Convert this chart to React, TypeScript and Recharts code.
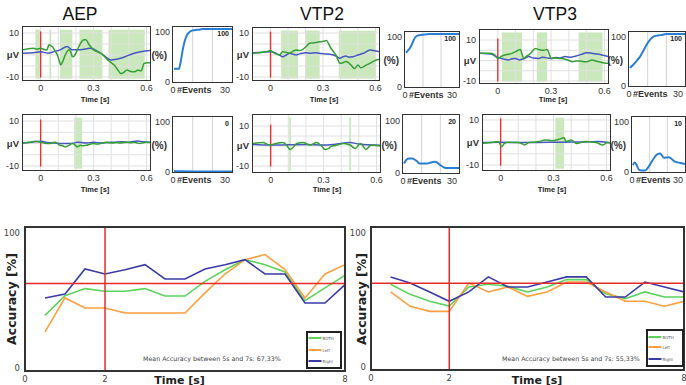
import React from 'react';
import { LineChart, Line, XAxis, YAxis, ReferenceLine, ReferenceArea } from 'recharts';

const TOP_FONT = '"Liberation Sans", Arial, sans-serif';
const TITLE_FONT = '"Liberation Sans Narrow", "Liberation Sans", Arial, sans-serif';
const BOT_FONT = '"DejaVu Sans", Verdana, sans-serif';

type P = [number, number];

// ---------- axis ticks ----------
const erpTimeTicks = [0, 0.3, 0.6];
const erpAmpTicks = [-10, 0, 10];
const erpGridTime = [0, 0.1, 0.2, 0.3, 0.4, 0.5, 0.6];
const erpGridAmp = [-10, -5, 0, 5, 10];
const pctTicks = [0, 50, 100];
const eventTicks = [0, 30];
const eventGrid = [10, 20];
const accTimeTicks = [0, 2, 8];
const accTicks = [0, 100];

// ---------- ERP traces (time [s], amplitude [µV]) ----------
const aepTopGreen: P[] = [[-0.1,2.3],[-0.07,2.8],[-0.04,3],[-0.02,2.6],[0,3],[0.02,2.5],[0.035,2.2],[0.047,4.6],[0.058,4.2],[0.066,3.8],[0.08,2],[0.095,0],[0.105,-2.5],[0.114,-4.6],[0.125,-3],[0.14,0],[0.16,2.3],[0.17,1.5],[0.18,-0.8],[0.19,-0.5],[0.2,0.8],[0.215,3.5],[0.227,5.4],[0.245,6.9],[0.256,6.9],[0.275,4.6],[0.3,2.3],[0.32,1.5],[0.34,0.8],[0.36,-0.5],[0.38,-2.3],[0.4,-3.5],[0.417,-4.6],[0.435,-6.5],[0.455,-8.5],[0.47,-8],[0.49,-6.9],[0.51,-7.5],[0.53,-7.7],[0.55,-7],[0.57,-7.2],[0.587,-3.8],[0.6,-3.6],[0.62,-3.5]];
const aepTopBlue: P[] = [[-0.1,0.8],[-0.04,1],[0,1.5],[0.04,0.8],[0.076,1.5],[0.11,2.3],[0.15,3.8],[0.18,2.3],[0.227,2.3],[0.28,3],[0.34,0.8],[0.4,-2.3],[0.455,-1.5],[0.53,0.8],[0.62,2]];
const aepTopShades: P[] = [[-0.03,-0.005],[0.05,0.06],[0.11,0.18],[0.22,0.35],[0.385,0.59]];

const vtp2TopGreen: P[] = [[-0.1,0.8],[-0.07,1],[-0.044,1.2],[-0.02,1.6],[0,2],[0.015,1.2],[0.03,0.5],[0.05,0],[0.07,1.5],[0.09,1.2],[0.11,0.8],[0.13,1.8],[0.147,2.3],[0.165,2],[0.185,2.6],[0.205,4],[0.224,5.4],[0.245,5.5],[0.26,5.7],[0.28,6],[0.3,6.2],[0.32,6.6],[0.33,5.5],[0.34,3.8],[0.36,1.5],[0.377,-0.5],[0.396,-3.8],[0.415,-3.5],[0.43,-3],[0.445,-3.5],[0.46,-4.6],[0.48,-6.2],[0.5,-4.6],[0.515,-5.8],[0.53,-5.4],[0.55,-4.5],[0.568,-3.8],[0.59,-2.8],[0.606,-2.3],[0.62,-2]];
const vtp2TopBlue: P[] = [[-0.1,1],[-0.05,1.2],[0,1.5],[0.03,0.8],[0.05,0],[0.07,-0.8],[0.09,0],[0.11,0.8],[0.13,0.3],[0.147,0],[0.165,0.5],[0.185,0.8],[0.205,1],[0.224,0.8],[0.26,1],[0.29,0.7],[0.32,0.5],[0.36,0],[0.38,-0.8],[0.396,-1.5],[0.415,-0.8],[0.43,-0.5],[0.45,-1],[0.47,-0.8],[0.5,0],[0.53,0.8],[0.57,2.3],[0.6,1.8],[0.62,1.5]];
const vtp2TopShades: P[] = [[0.061,0.157],[0.2,0.281],[0.39,0.6]];

const vtp3TopGreen: P[] = [[-0.1,3.5],[-0.07,3.5],[-0.044,3.5],[-0.02,3],[0,1],[0.02,2],[0.04,2.7],[0.06,3],[0.08,3.5],[0.1,4.3],[0.117,5.1],[0.127,5.4],[0.137,3],[0.146,1],[0.16,2],[0.174,2.7],[0.19,4],[0.21,5.9],[0.225,5.5],[0.24,5.1],[0.26,5],[0.278,5.4],[0.29,3],[0.3,1],[0.32,1.2],[0.345,1],[0.38,0.6],[0.4,0],[0.42,-0.6],[0.44,-0.3],[0.46,-0.2],[0.48,-0.5],[0.5,-0.6],[0.53,0.2],[0.55,-0.2],[0.57,-0.6],[0.6,-1.2],[0.62,-1.4]];
const vtp3TopBlue: P[] = [[-0.1,3.5],[-0.06,3.3],[-0.034,3],[0,1.5],[0.03,0.8],[0.06,0.2],[0.08,0.8],[0.1,1],[0.12,0.3],[0.136,0.6],[0.155,1.2],[0.174,1.9],[0.2,1.2],[0.23,1],[0.25,1.6],[0.27,1.4],[0.3,1],[0.326,1.5],[0.35,1.2],[0.38,1.9],[0.41,1.6],[0.44,2.2],[0.47,3],[0.5,3.8],[0.53,3.5],[0.57,3],[0.61,2.2],[0.62,2]];
const vtp3TopShades: P[] = [[0.023,0.136],[0.22,0.278],[0.455,0.59]];

const aepBotGreen: P[] = [[-0.1,0],[-0.08,0.4],[-0.06,0.6],[-0.03,1],[0,0.6],[0.015,0.3],[0.03,0],[0.056,0],[0.07,0.5],[0.084,0.6],[0.1,-0.3],[0.11,-0.8],[0.125,-1],[0.14,-1.5],[0.16,-0.8],[0.18,0],[0.195,-0.6],[0.206,-1.5],[0.215,-1.2],[0.225,-0.8],[0.24,-1],[0.26,-0.8],[0.28,-0.3],[0.3,0],[0.32,-0.3],[0.34,0],[0.36,0.4],[0.375,0.6],[0.39,0.3],[0.41,0.2],[0.43,0.5],[0.45,0.2],[0.47,0.4],[0.49,0.6],[0.51,0.3],[0.525,0.6],[0.545,0.3],[0.56,0],[0.58,0.3],[0.6,0.6],[0.62,0.4]];
const aepBotBlue: P[] = [[-0.1,0.2],[-0.05,0.6],[0,1],[0.04,0.4],[0.08,0.2],[0.12,0],[0.15,0],[0.2,0.4],[0.206,0.6],[0.23,0.5],[0.26,0.2],[0.3,0.6],[0.34,0.2],[0.38,0.5],[0.42,0.6],[0.46,0.8],[0.5,0.6],[0.55,1.1],[0.58,0.8],[0.62,0.6]];
const aepBotShades: P[] = [[0.19,0.235]];

const vtp2BotGreen: P[] = [[-0.1,1.3],[-0.044,1.7],[-0.005,0.5],[0.03,1.3],[0.07,1.7],[0.09,0.5],[0.11,-1.7],[0.13,-0.5],[0.147,1.3],[0.185,1.7],[0.224,0.5],[0.26,1.7],[0.285,0.3],[0.31,-1.7],[0.33,-1.2],[0.34,-0.3],[0.377,0.5],[0.415,1.3],[0.45,0.5],[0.48,-1.2],[0.51,1.3],[0.54,-1.7],[0.57,0.5],[0.6,0.2],[0.62,0]];
const vtp2BotBlue: P[] = [[-0.1,0.8],[0,0.5],[0.1,0.6],[0.2,0.7],[0.3,0.5],[0.36,0.8],[0.45,1.7],[0.5,1],[0.55,0.6],[0.62,0.4]];
const vtp2BotShades: P[] = [[0.105,0.115],[0.445,0.455]];

const vtp3BotGreen: P[] = [[-0.1,-0.3],[-0.05,0],[-0.013,0.4],[0.006,-1.9],[0.02,-0.5],[0.044,0.1],[0.1,0],[0.12,-0.5],[0.136,-1.1],[0.16,0],[0.2,0.2],[0.216,0.4],[0.254,1.1],[0.29,0.8],[0.33,1.4],[0.36,2.1],[0.37,0.4],[0.4,1.1],[0.43,-0.4],[0.48,0.4],[0.54,0],[0.58,-1.1],[0.605,0],[0.62,0]];
const vtp3BotBlue: P[] = [[-0.1,0],[0,0.1],[0.1,0],[0.2,0],[0.3,0.1],[0.4,0.2],[0.5,0.3],[0.55,0.4],[0.62,-0.2]];
const vtp3BotShades: P[] = [[0.31,0.36]];

// ---------- detection rate vs #events ----------
const aepTopPct: P[] = [[0.5,25],[3,25],[4,40],[5,62],[6,78],[7,88],[8,93],[9,96],[11,98],[13,99],[15,100],[20,100],[30,100]];
const vtp2TopPct: P[] = [[0.5,65],[2,70],[3,75],[4,82],[5,90],[6,95],[8,98],[10,99],[14,100],[30,100]];
const vtp3TopPct: P[] = [[0.5,35],[2,40],[4,48],[6,57],[8,70],[9.5,80],[11,88],[13,95],[15,97],[17,98],[20,100],[30,100]];
const aepBotPct: P[] = [[0.5,2],[2,1.5],[5,1.2],[10,1],[20,1],[30,1]];
const vtp2BotPct: P[] = [[0.5,17],[2,24],[3.3,26],[5,26],[5.8,25],[7.5,21],[9,17],[11,17],[13,17],[15,19],[17,20],[18.5,18],[20,14],[22,10],[24,9],[28,9],[30,9]];
const vtp3BotPct: P[] = [[0.5,13],[1.5,18],[2.5,14],[4,4],[5.5,3],[7.5,3],[10,13],[12,24],[14,33],[16,35],[18,27],[21,28],[24,20],[27.5,17],[30,15]];
const pctBadges = ['100', '100', '100', '0', '20', '10'];

// ---------- accuracy over time ----------
const accTime = [0.5,1,1.5,2,2.5,3,3.5,4,4.5,5,5.5,6,6.5,7,7.5,8];
const leftBoth = [39,53.6,58.8,56.8,56.8,58.8,53.3,53.3,64.2,72.8,80.2,76.5,71.1,49.9,59.3,68.6];
const leftLeft = [26.7,51.9,44.4,44.4,40.7,40.7,40.7,40.7,55.6,69.6,80.2,84,72.8,51.9,69.6,76.5];
const leftRight = [51.9,54.8,73.3,69.6,72.8,76.5,65.9,65.9,73.3,76.5,80.2,69.6,69.6,48.1,48.1,61.7];
const rightBoth = [61.7,54.2,49,45.5,59.7,61.7,60.2,56,59.7,65.2,65.2,54.7,51,56,52.2,52.2];
const rightLeft = [56,45.3,41.5,41.5,62.7,56,59.7,52.7,56,63.4,63.4,56,49,49,45.3,49];
const rightRight = [67.2,62.7,56,49,56,67.2,59.7,59.7,63.4,67.2,67.2,52.2,52.2,63.4,59.7,56];
const accThreshold = 62.5;
const cueTime = 2;
const meanTexts = ['Mean Accuracy between 5s and 7s: 67,33%', 'Mean Accuracy between 5s and 7s: 55,33%'];
const accSeries = [
  { key: 'both', name: 'BOTH', color: '#5ad45a' },
  { key: 'left', name: 'Left', color: '#ffa040' },
  { key: 'right', name: 'Right', color: '#3b3ba8' },
];

const toTV = (a: P[]) => a.map(([t, v]) => ({ t, v }));
const toEP = (a: P[]) => a.map(([e, p]) => ({ e, p }));
const accRows = (b: number[], l: number[], r: number[]) =>
  accTime.map((t, i) => ({ t, both: b[i], left: l[i], right: r[i] }));

// ---------- helpers ----------
function Txt({ x, y, children, size, bold = false, anchor = 'middle', rotate = 0, family = TOP_FONT, color = '#222' }: any) {
  const tx = anchor === 'middle' ? '-50%' : anchor === 'end' ? '-100%' : '0';
  return (
    <div
      style={{
        position: 'absolute', left: x, top: y,
        transform: `translate(${tx},-50%)${rotate ? ` rotate(${rotate}deg)` : ''}`,
        fontSize: size, fontWeight: bold ? 700 : 400, whiteSpace: 'nowrap', lineHeight: 1,
        fontFamily: family, color,
      }}
    >
      {children}
    </div>
  );
}

const BoxBorder = ({ left, top, w, h, width = 1.5 }: any) => (
  <div
    style={{
      position: 'absolute', left: left - width / 2, top: top - width / 2, width: w + width, height: h + width,
      border: `${width}px solid #333`, boxSizing: 'border-box', pointerEvents: 'none',
    }}
  />
);

// ---------- ERP panel ----------
const EYW = 24, EXH = 14, EMR = 10;
const ErpXTick = (p: any) => (
  <text x={p.x} y={p.y} dy="0.8em" textAnchor="middle" fontSize={9} fill="#333" fontFamily={TOP_FONT}>
    {String(p.payload.value)}
  </text>
);
const ErpYTick = (p: any) => {
  const zero = p.payload.value === 0;
  return (
    <text x={p.x} y={p.y} dy="0.36em" textAnchor="end" fontSize={zero ? 9.5 : 9} fontWeight={zero ? 700 : 400} fill="#333" fontFamily={TOP_FONT}>
      {zero ? 'μV' : String(p.payload.value)}
    </text>
  );
};

function ErpPanel({ box, yDomain, green, blue, shades }: any) {
  const [lo, hi] = yDomain;
  return (
    <div style={{ position: 'absolute', left: box.x - EYW, top: box.y }}>
      <LineChart width={box.w + EYW + EMR} height={box.h + EXH} margin={{ top: 0, right: EMR, bottom: 0, left: 0 }}>
        <XAxis type="number" dataKey="t" domain={[-0.1, 0.62]} ticks={erpTimeTicks} interval={0} allowDataOverflow
          axisLine={false} tickLine={false} tickSize={2} tickMargin={2} height={EXH} tick={ErpXTick} />
        <YAxis type="number" dataKey="v" domain={yDomain} ticks={erpAmpTicks} interval={0} allowDataOverflow
          axisLine={false} tickLine={false} tickSize={2} tickMargin={2} width={EYW} tick={ErpYTick} />
        {erpGridTime.map((t) => <ReferenceLine key={'gx' + t} x={t} stroke="#e0e0e0" strokeWidth={1} />)}
        {erpGridAmp.map((v) => <ReferenceLine key={'gy' + v} y={v} stroke="#e0e0e0" strokeWidth={1} />)}
        {shades.map(([a, b]: P, i: number) => (
          <ReferenceArea key={'s' + i} x1={a} x2={b} y1={lo + 0.6} y2={hi - 1.2} fill="#a6d88e" fillOpacity={0.6} stroke="none" />
        ))}
        <ReferenceLine segment={[{ x: 0, y: -10.3 }, { x: 0, y: 10.7 }]} stroke="#f03030" strokeWidth={1.4} />
        <Line data={toTV(blue)} dataKey="v" type="monotone" stroke="#4657c2" strokeWidth={1.5} dot={false} isAnimationActive={false} />
        <Line data={toTV(green)} dataKey="v" type="monotone" stroke="#34a034" strokeWidth={1.5} dot={false} isAnimationActive={false} />
      </LineChart>
      <BoxBorder left={EYW} top={0} w={box.w} h={box.h} />
    </div>
  );
}

// ---------- % vs #events panel ----------
const PYW = 26, PXH = 14;
const PctXTick = (p: any) => {
  if (p.payload.value === 0) {
    return (
      <text x={p.x - 2.5} y={p.y} dy="0.8em" textAnchor="start" fontSize={9} fill="#333" fontFamily={TOP_FONT}>
        <tspan>0</tspan>
        <tspan dx={1.5} fontWeight={700}>#Events</tspan>
      </text>
    );
  }
  return (
    <text x={p.x - 2} y={p.y} dy="0.8em" textAnchor="end" fontSize={9} fill="#333" fontFamily={TOP_FONT}>
      {String(p.payload.value)}
    </text>
  );
};
const PctYTick = (p: any) => {
  const v = p.payload.value;
  const mid = v === 50;
  return (
    <text x={p.x} y={p.y} dx={mid ? -3 : 0} dy={v === 100 ? '0.7em' : '0.36em'} textAnchor="end" fontSize={mid ? 10 : 9}
      fontWeight={mid ? 700 : 400} fill="#333" fontFamily={TOP_FONT}>
      {mid ? '(%)' : String(v)}
    </text>
  );
};

function PctPanel({ box, data, badge }: any) {
  return (
    <div style={{ position: 'absolute', left: box.x - PYW, top: box.y }}>
      <LineChart width={box.w + PYW} height={box.h + PXH} margin={{ top: 0, right: 0, bottom: 0, left: 0 }}>
        <XAxis type="number" dataKey="e" domain={[0, 30]} ticks={eventTicks} interval={0} allowDataOverflow
          axisLine={false} tickLine={false} tickSize={2} tickMargin={2} height={PXH} tick={PctXTick} />
        <YAxis type="number" dataKey="p" domain={[0, 104]} ticks={pctTicks} interval={0} allowDataOverflow
          axisLine={false} tickLine={false} tickSize={1} tickMargin={2} width={PYW} tick={PctYTick} />
        {eventGrid.map((e) => <ReferenceLine key={'eg' + e} x={e} stroke="#d4d4d4" strokeWidth={1} />)}
        <Line data={toEP(data)} dataKey="p" type="monotone" stroke="#2a7fd4" strokeWidth={2} dot={false} isAnimationActive={false} />
      </LineChart>
      <BoxBorder left={PYW} top={0} w={box.w} h={box.h} />
      <Txt x={PYW + box.w - 3} y={6} size={7} bold anchor="end" color="#222">{badge}</Txt>
    </div>
  );
}

// ---------- accuracy panel ----------
const AYW = 25, AXH = 14, AMR = 6;
const AccXTick = (p: any) => (
  <text x={p.x} y={p.y} dy="0.8em" textAnchor="middle" fontSize={8.5} fill="#444" fontFamily={BOT_FONT}>
    {String(p.payload.value)}
  </text>
);
const AccYTick = (p: any) => (
  <text x={p.x} y={p.y} dy="0.36em" textAnchor="end" fontSize={8.5} fill="#444" fontFamily={BOT_FONT}>
    {String(p.payload.value)}
  </text>
);

function AccLegend({ x, y, w, h, rowsY }: any) {
  return (
    <svg style={{ position: 'absolute', left: x, top: y }} width={w} height={h}>
      <rect x={1} y={1} width={w - 2} height={h - 2} fill="#fff" stroke="#222" strokeWidth={2} />
      {accSeries.map((s, i) => (
        <g key={s.key}>
          <line x1={2.5} x2={15.5} y1={rowsY[i]} y2={rowsY[i]} stroke={s.color} strokeWidth={2} />
          <text x={16.5} y={rowsY[i] + 1.5} fontSize={4} fill="#555" fontFamily={BOT_FONT}>{s.name}</text>
        </g>
      ))}
    </svg>
  );
}

function AccPanel({ box, rows }: any) {
  return (
    <div style={{ position: 'absolute', left: box.x - AYW, top: box.y }}>
      <LineChart width={box.w + AYW + AMR} height={box.h + AXH} data={rows} margin={{ top: 0, right: AMR, bottom: 0, left: 0 }}>
        <XAxis type="number" dataKey="t" domain={[0, 8]} ticks={accTimeTicks} interval={0} allowDataOverflow
          axisLine={false} tickLine={false} tickSize={2} tickMargin={2} height={AXH} tick={AccXTick} />
        <YAxis type="number" domain={[-2.2, 104.4]} ticks={accTicks} interval={0} allowDataOverflow
          axisLine={false} tickLine={false} tickSize={3} tickMargin={2} width={AYW} tick={AccYTick} />
        {accSeries.map((s) => (
          <Line key={s.key} dataKey={s.key} name={s.name} type="linear" stroke={s.color} strokeWidth={1.6} dot={false} isAnimationActive={false} />
        ))}
        <ReferenceLine y={accThreshold} stroke="#e82a2a" strokeWidth={1.5} />
        <ReferenceLine x={cueTime} stroke="#e82a2a" strokeWidth={1.5} />
      </LineChart>
      <BoxBorder left={AYW} top={0} w={box.w} h={box.h} width={2} />
    </div>
  );
}

// ---------- layout ----------
const erpPanels = [
  { box: { x: 23, y: 27, w: 127, h: 53 }, yDomain: [-11.4, 12.7], green: aepTopGreen, blue: aepTopBlue, shades: aepTopShades },
  { box: { x: 253, y: 28, w: 126, h: 52 }, yDomain: [-11.4, 12.3], green: vtp2TopGreen, blue: vtp2TopBlue, shades: vtp2TopShades },
  { box: { x: 480, y: 30, w: 128, h: 53 }, yDomain: [-11, 14.9], green: vtp3TopGreen, blue: vtp3TopBlue, shades: vtp3TopShades },
  { box: { x: 23, y: 115, w: 127, h: 55 }, yDomain: [-11.8, 12.7], green: aepBotGreen, blue: aepBotBlue, shades: aepBotShades },
  { box: { x: 253, y: 115, w: 127, h: 57 }, yDomain: [-13, 15.5], green: vtp2BotGreen, blue: vtp2BotBlue, shades: vtp2BotShades },
  { box: { x: 483, y: 115, w: 127, h: 55 }, yDomain: [-12.2, 12.2], green: vtp3BotGreen, blue: vtp3BotBlue, shades: vtp3BotShades },
];
const pctPanels = [
  { box: { x: 173, y: 27, w: 59, h: 55 }, data: aepTopPct },
  { box: { x: 405, y: 32, w: 54, h: 55 }, data: vtp2TopPct },
  { box: { x: 629, y: 32, w: 56, h: 54 }, data: vtp3TopPct },
  { box: { x: 173, y: 117, w: 59, h: 55 }, data: aepBotPct },
  { box: { x: 403, y: 115, w: 56, h: 58 }, data: vtp2BotPct },
  { box: { x: 632, y: 117, w: 53, h: 55 }, data: vtp3BotPct },
];
const titles = [
  { text: 'AEP', x: 80, y: 15 },
  { text: 'VTP2', x: 322, y: 15 },
  { text: 'VTP3', x: 555, y: 15 },
];
const timeLabels = [
  { x: 95, y: 99.5 }, { x: 324, y: 99.5 }, { x: 553, y: 99.5 },
  { x: 95, y: 190 }, { x: 327, y: 190 }, { x: 552, y: 190 },
];

export default function App() {
  return (
    <div style={{ position: 'absolute', left: 0, top: 0, width: 686, height: 385, background: '#fff', overflow: 'hidden', fontFamily: TOP_FONT }}>
      {titles.map((t) => (
        <Txt key={t.text} x={t.x} y={t.y} size={17.5} family={TITLE_FONT} color="#111">{t.text}</Txt>
      ))}
      {erpPanels.map((p, i) => <ErpPanel key={'erp' + i} {...p} />)}
      {pctPanels.map((p, i) => <PctPanel key={'pct' + i} {...p} badge={pctBadges[i]} />)}
      {timeLabels.map((t, i) => (
        <Txt key={'tl' + i} x={t.x} y={t.y} size={7.5} bold color="#222">Time [s]</Txt>
      ))}

      <AccPanel box={{ x: 25, y: 227, w: 320, h: 144 }} rows={accRows(leftBoth, leftLeft, leftRight)} />
      <AccPanel box={{ x: 371, y: 227, w: 313, h: 143 }} rows={accRows(rightBoth, rightLeft, rightRight)} />
      <AccLegend x={306} y={331} w={36} h={38} rowsY={[7, 19, 30]} />
      <AccLegend x={646} y={329} w={38} h={38} rowsY={[8, 18, 30]} />
      <Txt x={143} y={359} size={6.3} anchor="start" family={BOT_FONT} color="#444">{meanTexts[0]}</Txt>
      <Txt x={502} y={359} size={6.3} anchor="start" family={BOT_FONT} color="#444">{meanTexts[1]}</Txt>
      <Txt x={12} y={299} size={12.5} bold rotate={-90} family={BOT_FONT} color="#222">Accuracy [%]</Txt>
      <Txt x={362} y={299} size={12.5} bold rotate={-90} family={BOT_FONT} color="#222">Accuracy [%]</Txt>
      <Txt x={179.5} y={380} size={11} bold family={BOT_FONT} color="#222">Time [s]</Txt>
      <Txt x={537} y={380} size={11} bold family={BOT_FONT} color="#222">Time [s]</Txt>
    </div>
  );
}
